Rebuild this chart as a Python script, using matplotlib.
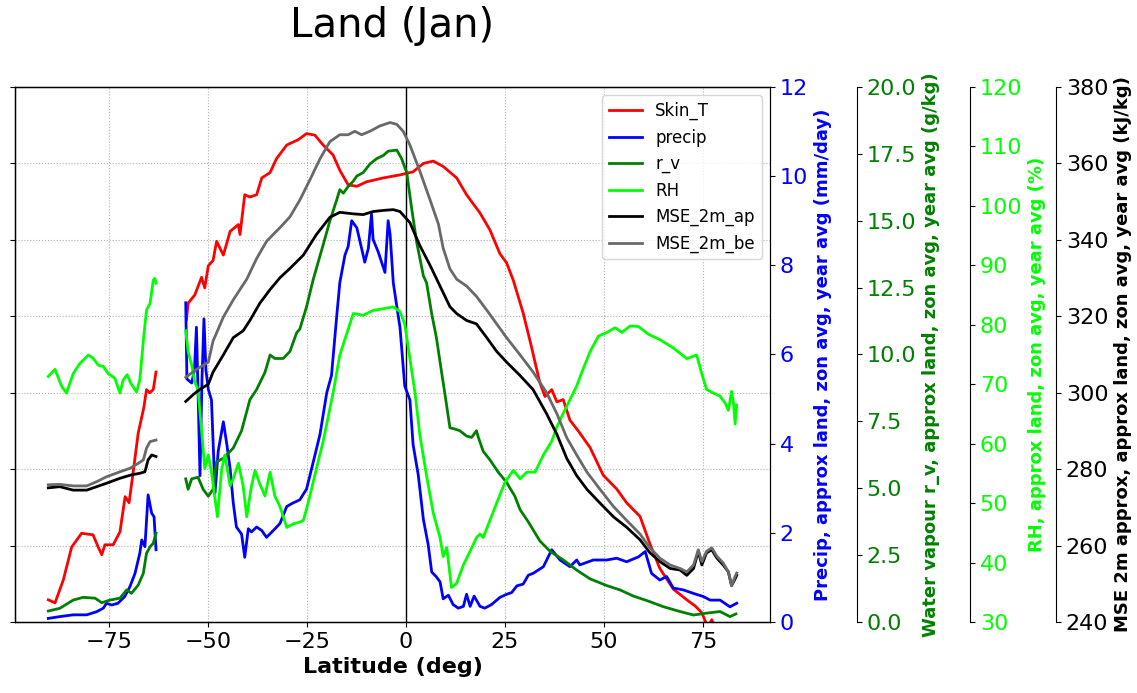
import numpy as np
import matplotlib
matplotlib.use('Agg')
import matplotlib.pyplot as plt
from matplotlib.ticker import MultipleLocator

nan = np.nan

# (latitude, value) pairs; nan marks the gap between Antarctica and S. America
skin_t = [(-90.3, 232.9), (-88.6, 232.5), (-86.5, 235.5), (-84.4, 239.8), (-81.9, 241.6), (-79.0, 241.4),
          (-77.7, 239.8), (-76.8, 238.8), (-76.0, 240.1), (-73.9, 240.1), (-72.2, 241.8), (-70.9, 246.4),
          (-69.9, 245.6), (-68.9, 249.5), (-67.6, 254.7), (-66.2, 258.0), (-65.5, 260.4), (-64.7, 260.0),
          (-63.8, 260.4), (-63.1, 262.7), (nan, nan),
          (-55.4, 269.6), (-55.0, 271.7), (-53.3, 272.8), (-51.6, 275.1), (-50.8, 273.7), (-49.9, 276.6),
          (-48.7, 277.3), (-47.8, 279.8), (-46.1, 278.0), (-44.4, 281.1), (-42.3, 282.0), (-41.9, 280.7),
          (-40.7, 285.9), (-39.4, 285.6), (-37.7, 285.9), (-36.4, 288.1), (-34.3, 288.8), (-32.7, 290.6),
          (-30.1, 292.4), (-27.2, 293.1), (-25.1, 293.9), (-23.0, 293.7), (-20.9, 292.4), (-18.4, 291.1),
          (-16.7, 289.1), (-14.6, 287.2), (-12.4, 287.0), (-9.9, 287.6), (-5.7, 288.1), (-1.5, 288.5),
          (1.8, 288.9), (4.4, 290.0), (6.9, 290.3), (9.4, 289.6), (12.8, 288.1), (15.3, 285.9), (18.7, 283.5),
          (21.2, 281.3), (23.7, 278.2), (25.4, 277.0), (27.1, 274.7), (29.6, 270.4), (31.5, 266.4),
          (33.8, 261.3), (35.1, 259.5), (36.8, 260.4), (38.1, 258.8), (39.7, 259.1), (41.4, 256.4),
          (43.5, 255.0), (46.5, 252.8), (49.8, 249.2), (53.2, 247.4), (55.7, 245.6), (59.1, 243.8),
          (61.6, 240.2), (64.1, 237.0), (67.5, 234.3), (70.9, 232.9), (73.0, 232.1), (74.7, 231.2),
          (76.2, 229.3), (77.2, 230.3), (78.2, 229.0)]

precip = [(-90.3, 0.08), (-87.4, 0.12), (-84.0, 0.16), (-80.6, 0.16), (-78.1, 0.23), (-76.4, 0.31),
          (-75.6, 0.42), (-74.3, 0.38), (-72.7, 0.42), (-71.0, 0.57), (-69.7, 0.79), (-68.4, 1.09),
          (-67.2, 1.54), (-66.7, 1.84), (-65.9, 1.69), (-65.1, 2.85), (-64.2, 2.44), (-63.6, 2.36),
          (-63.1, 1.62), (nan, nan),
          (-55.6, 7.16), (-55.3, 5.45), (-54.1, 5.36), (-53.4, 5.65), (-52.9, 6.61), (-52.5, 5.2),
          (-52.0, 3.28), (-51.5, 5.43), (-51.0, 6.80), (-50.5, 5.65), (-49.9, 5.22), (-49.1, 4.98),
          (-48.2, 2.90), (-47.4, 3.83), (-46.1, 4.49), (-45.2, 3.97), (-44.4, 3.44), (-43.6, 2.67),
          (-42.8, 2.13), (-41.5, 1.97), (-40.7, 1.45), (-39.8, 2.09), (-39.0, 2.02), (-37.7, 2.13),
          (-36.4, 2.05), (-35.2, 1.90), (-33.5, 2.05), (-31.8, 2.21), (-30.1, 2.59), (-28.5, 2.67),
          (-26.8, 2.74), (-25.1, 2.98), (-23.4, 3.59), (-21.7, 4.21), (-20.0, 5.14), (-18.8, 5.53),
          (-17.5, 6.84), (-16.7, 7.61), (-15.4, 8.23), (-14.6, 8.42), (-13.7, 9.0), (-12.4, 8.84),
          (-11.2, 8.38), (-10.4, 8.07), (-9.5, 8.38), (-8.7, 9.15), (-8.3, 8.58), (-7.0, 8.30),
          (-5.3, 7.84), (-4.5, 9.0), (-4.0, 8.69), (-3.2, 7.61), (-2.3, 7.07), (-1.5, 6.6), (-0.3, 5.29),
          (1.0, 4.98), (1.8, 3.98), (3.1, 3.3), (4.4, 2.3), (5.6, 1.74), (6.5, 1.12), (7.7, 1.01),
          (8.6, 0.9), (9.4, 0.52), (10.7, 0.6), (11.9, 0.39), (13.2, 0.31), (14.5, 0.35), (15.3, 0.62),
          (16.2, 0.35), (17.2, 0.58), (18.7, 0.35), (19.9, 0.31), (21.6, 0.39), (23.7, 0.55), (25.4, 0.62),
          (26.7, 0.66), (28.0, 0.81), (29.6, 0.85), (30.9, 1.05), (32.1, 1.09), (34.7, 1.24), (36.8, 1.62),
          (38.9, 1.39), (41.4, 1.24), (43.1, 1.39), (43.9, 1.28), (47.3, 1.39), (50.7, 1.39), (53.2, 1.43),
          (55.7, 1.35), (58.7, 1.46), (60.4, 1.58), (62.0, 1.09), (64.1, 0.94), (65.8, 1.02), (67.5, 0.76),
          (70.0, 0.72), (72.6, 0.64), (75.1, 0.57), (76.8, 0.49), (79.3, 0.49), (81.8, 0.34), (83.5, 0.42)]

r_v = [(-90.3, 0.41), (-87.4, 0.51), (-84.0, 0.82), (-81.5, 0.92), (-78.5, 0.89), (-76.8, 0.72),
       (-74.7, 0.82), (-72.2, 0.89), (-70.5, 1.20), (-69.3, 1.07), (-67.6, 1.38), (-66.3, 1.82),
       (-65.5, 2.57), (-64.6, 2.81), (-63.8, 2.94), (-63.1, 3.32), (nan, nan),
       (-55.6, 5.35), (-55.0, 4.96), (-54.1, 5.35), (-52.5, 5.41), (-51.2, 4.96), (-49.9, 4.70),
       (-48.7, 4.96), (-47.8, 5.99), (-46.1, 6.12), (-43.6, 6.50), (-41.5, 7.15), (-39.4, 8.31),
       (-37.7, 8.69), (-35.6, 9.33), (-34.3, 9.98), (-33.1, 9.85), (-31.0, 9.85), (-29.3, 10.11),
       (-27.6, 10.81), (-26.8, 10.95), (-25.1, 11.78), (-23.4, 12.81), (-20.9, 14.10), (-19.2, 15.0),
       (-17.5, 15.77), (-16.7, 16.16), (-15.8, 16.03), (-14.6, 16.28), (-13.3, 16.48), (-12.4, 16.67),
       (-10.8, 16.80), (-9.1, 17.12), (-7.4, 17.32), (-5.7, 17.44), (-4.5, 17.60), (-2.3, 17.64),
       (-1.1, 17.32), (0.2, 16.8), (1.4, 15.5), (2.7, 14.2), (4.4, 12.94), (5.2, 12.68), (6.5, 11.52),
       (7.7, 10.62), (9.0, 9.33), (9.8, 8.56), (11.1, 7.26), (12.4, 7.21), (13.6, 7.15), (15.3, 6.95),
       (16.6, 6.9), (17.8, 7.15), (18.3, 6.89), (19.5, 6.38), (21.2, 6.06), (23.3, 5.60), (25.4, 5.22),
       (27.5, 4.70), (28.8, 4.2), (30.9, 3.74), (33.8, 3.03), (36.4, 2.64), (39.7, 2.32), (43.1, 1.94),
       (46.5, 1.61), (50.7, 1.36), (54.0, 1.2), (57.4, 0.97), (61.2, 0.78), (65.0, 0.57), (69.2, 0.39),
       (72.6, 0.26), (75.9, 0.33), (79.3, 0.39), (81.8, 0.20), (83.3, 0.30)]

rh = [(-90.3, 71.3), (-88.6, 72.5), (-86.9, 69.6), (-85.7, 68.5), (-84.0, 71.8), (-82.3, 73.5),
      (-80.2, 74.9), (-79.0, 74.4), (-77.7, 73.2), (-76.4, 73.0), (-75.2, 71.8), (-73.5, 71.0),
      (-72.2, 68.5), (-71.4, 70.7), (-70.4, 71.6), (-69.5, 70.2), (-68.0, 68.7), (-67.2, 70.7),
      (-66.2, 78.0), (-65.5, 82.5), (-64.6, 83.6), (-63.8, 87.5), (-63.4, 87.8), (-63.1, 87.0), (nan, nan),
      (-55.6, 79.0), (-55.0, 75.5), (-54.1, 73.2), (-53.3, 70.3), (-52.5, 69.1), (-51.6, 62.2),
      (-50.8, 55.8), (-49.9, 58.1), (-49.1, 55.2), (-47.6, 47.7), (-46.5, 55.8), (-45.7, 58.1),
      (-44.4, 52.9), (-43.6, 54.1), (-42.3, 56.7), (-41.1, 52.9), (-40.2, 47.7), (-39.0, 52.9),
      (-38.1, 55.5), (-36.9, 53.2), (-35.6, 51.2), (-34.3, 55.2), (-33.1, 51.2), (-31.8, 49.4),
      (-30.1, 45.9), (-28.5, 46.5), (-26.8, 46.8), (-25.9, 47.1), (-24.7, 50.0), (-22.6, 55.8),
      (-20.9, 60.4), (-18.4, 68.5), (-16.7, 74.9), (-15.0, 78.4), (-13.3, 81.9), (-10.8, 81.6),
      (-8.3, 82.4), (-5.7, 82.7), (-3.2, 83.0), (-1.5, 82.2), (-0.3, 80.1), (1.0, 74.3), (2.3, 68.5),
      (3.5, 61.5), (5.2, 54.6), (6.9, 48.3), (8.6, 44.2), (9.4, 41.0), (10.3, 42.5), (11.5, 35.8),
      (12.8, 36.5), (14.5, 39.6), (16.2, 41.9), (17.8, 44.2), (18.7, 44.8), (19.5, 44.2), (21.2, 47.1),
      (22.9, 50.0), (25.0, 53.5), (27.1, 55.5), (28.8, 54.1), (30.5, 55.2), (32.6, 55.2), (34.7, 58.1),
      (36.8, 60.4), (38.1, 62.8), (39.7, 65.1), (41.4, 67.4), (43.1, 69.7), (44.4, 72.0), (46.5, 75.5),
      (48.6, 78.1), (50.7, 78.7), (52.8, 79.5), (54.5, 78.7), (56.6, 79.8), (58.7, 79.7), (61.2, 78.4),
      (64.1, 77.5), (67.5, 76.1), (70.9, 74.3), (73.4, 74.9), (74.7, 71.7), (75.9, 69.1), (77.6, 68.5),
      (79.3, 68.0), (80.6, 66.8), (81.4, 65.6), (82.2, 68.8), (82.7, 66.8), (83.1, 63.3), (83.5, 66.5)]

mse_ap = [(-90.3, 275.1), (-87.4, 275.4), (-84.0, 274.5), (-80.6, 274.5), (-78.1, 275.4), (-75.6, 276.3),
          (-72.2, 277.6), (-69.3, 278.5), (-67.2, 278.9), (-65.9, 279.3), (-65.1, 282.4), (-64.2, 283.7),
          (-63.1, 283.3), (nan, nan),
          (-55.6, 297.7), (-53.7, 299.5), (-52.0, 300.9), (-49.9, 302.2), (-48.7, 305.4), (-46.1, 309.9),
          (-43.6, 314.4), (-41.1, 316.2), (-39.4, 318.9), (-36.9, 323.4), (-34.3, 327.0), (-31.8, 330.1),
          (-29.3, 332.5), (-25.9, 336.0), (-22.6, 341.4), (-19.2, 345.9), (-16.7, 347.2), (-13.3, 346.8),
          (-10.8, 346.6), (-8.3, 347.4), (-5.7, 347.7), (-3.2, 347.9), (-1.5, 347.4), (1.0, 344.5),
          (3.5, 338.5), (6.1, 333.3), (8.6, 327.9), (11.1, 322.5), (12.8, 320.7), (15.3, 318.9),
          (17.8, 318.0), (20.4, 314.4), (22.9, 310.8), (25.4, 308.0), (28.8, 304.5), (32.1, 300.8),
          (35.5, 294.5), (38.1, 289.1), (40.6, 282.8), (43.1, 278.3), (45.7, 274.7), (49.0, 271.1),
          (52.4, 267.5), (55.7, 264.8), (59.1, 261.5), (61.6, 258.1), (64.1, 255.8), (66.7, 254.0),
          (69.2, 253.6), (70.9, 252.2), (72.6, 254.0), (73.8, 258.5), (74.7, 254.9), (75.9, 258.1),
          (77.2, 258.9), (78.5, 256.7), (80.1, 254.9), (81.4, 253.1), (82.2, 249.5), (83.1, 251.3),
          (83.5, 252.2)]

mse_be = [(-90.3, 275.9), (-87.4, 276.0), (-84.0, 275.6), (-80.6, 275.6), (-78.1, 276.7), (-75.6, 278.0),
          (-72.2, 279.3), (-69.7, 280.2), (-67.6, 281.5), (-66.3, 282.4), (-65.5, 285.5), (-64.6, 287.2),
          (-63.1, 287.6), (nan, nan),
          (-55.6, 304.0), (-53.3, 305.8), (-49.9, 308.0), (-48.7, 313.5), (-46.1, 319.8), (-43.6, 324.3),
          (-40.2, 329.7), (-37.7, 335.1), (-35.2, 339.6), (-31.8, 343.2), (-29.3, 346.0), (-26.8, 350.4),
          (-24.2, 355.8), (-21.7, 361.2), (-19.2, 365.7), (-16.7, 367.5), (-14.6, 367.5), (-12.9, 368.4),
          (-11.2, 367.5), (-9.1, 368.4), (-6.6, 369.8), (-4.0, 370.7), (-2.3, 370.2), (-0.7, 368.4),
          (1.0, 364.8), (3.5, 358.0), (6.1, 350.4), (8.2, 344.1), (9.4, 337.8), (11.1, 332.4),
          (12.8, 329.7), (15.3, 327.9), (17.8, 325.2), (20.4, 321.6), (22.9, 318.0), (25.4, 314.4),
          (28.8, 309.9), (32.1, 305.4), (35.5, 300.0), (38.1, 294.5), (40.6, 288.2), (43.1, 283.7),
          (45.7, 279.2), (49.0, 274.7), (52.4, 270.2), (55.7, 266.6), (59.1, 263.0), (61.6, 259.4),
          (64.1, 256.7), (66.7, 254.9), (69.2, 254.0), (70.9, 253.1), (72.6, 254.9), (73.8, 258.9),
          (74.7, 255.8), (75.9, 258.5), (77.2, 259.4), (78.5, 257.2), (80.1, 255.4), (81.4, 253.1),
          (82.2, 249.5), (83.1, 251.9), (83.5, 252.8)]


def xy(pts):
    a = np.array(pts, dtype=float)
    return a[:, 0], a[:, 1]


fig = plt.figure(figsize=(11.37, 6.93), dpi=100)
ax = fig.add_axes((0.0132, 0.1025, 0.664, 0.772))

lw = 2
label_size = 13
# Skin_T on the main axis (its y labels are hidden)
h1, = ax.plot(*xy(skin_t), color='red', lw=lw, label='Skin_T')
ax.set_ylim(230, 300)
ax.yaxis.set_major_locator(MultipleLocator(10))
ax.tick_params(axis='y', left=False, labelleft=False)
ax.set_xlim(-98.7, 91.9)
ax.xaxis.set_major_locator(MultipleLocator(25))
ax.tick_params(axis='x', labelsize=16)
ax.grid(True, linestyle=':', color='#b0b0b0')
ax.axvline(0, color='black', lw=1)
ax.set_xlabel('Latitude (deg)', fontsize=16, fontweight='bold')
ax.set_title('Land (Jan)', fontsize=29, pad=36)

ax_p = ax.twinx()
h2, = ax_p.plot(*xy(precip), color='blue', lw=lw, label='precip')
ax_p.set_ylim(0, 12)
ax_p.yaxis.set_major_locator(MultipleLocator(2))
ax_p.tick_params(axis='y', labelsize=16, labelcolor='blue')
ax_p.set_ylabel('Precip, approx land, zon avg, year avg (mm/day)', color='blue',
                fontsize=label_size, fontweight='bold')

ax_q = ax.twinx()
ax_q.spines['right'].set_position(('axes', 1.115))
h3, = ax_q.plot(*xy(r_v), color='green', lw=lw, label='r_v')
ax_q.set_ylim(0, 20)
ax_q.yaxis.set_major_locator(MultipleLocator(2.5))
ax_q.tick_params(axis='y', labelsize=16, labelcolor='green')
ax_q.set_ylabel('Water vapour r_v, approx land, zon avg, year avg (g/kg)', color='green',
                fontsize=label_size, fontweight='bold')

ax_rh = ax.twinx()
ax_rh.spines['right'].set_position(('axes', 1.265))
h4, = ax_rh.plot(*xy(rh), color='lime', lw=lw, label='RH')
ax_rh.set_ylim(30, 120)
ax_rh.yaxis.set_major_locator(MultipleLocator(10))
ax_rh.tick_params(axis='y', labelsize=16, labelcolor='lime')
ax_rh.set_ylabel('RH, approx land, zon avg, year avg (%)', color='lime',
                 fontsize=label_size, fontweight='bold')

ax_m = ax.twinx()
ax_m.spines['right'].set_position(('axes', 1.379))
h5, = ax_m.plot(*xy(mse_ap), color='black', lw=lw, label='MSE_2m_ap')
h6, = ax_m.plot(*xy(mse_be), color='dimgray', lw=lw, label='MSE_2m_be')
ax_m.set_ylim(240, 380)
ax_m.yaxis.set_major_locator(MultipleLocator(20))
ax_m.tick_params(axis='y', labelsize=16, labelcolor='black')
ax_m.set_ylabel('MSE 2m approx, approx land, zon avg, year avg (kJ/kg)', color='black',
                fontsize=label_size, fontweight='bold')

handles = [h1, h2, h3, h4, h5, h6]
ax_m.legend(handles, [h.get_label() for h in handles], loc='upper right', fontsize=12)

plt.savefig('out.png', dpi=100)
plt.close()
